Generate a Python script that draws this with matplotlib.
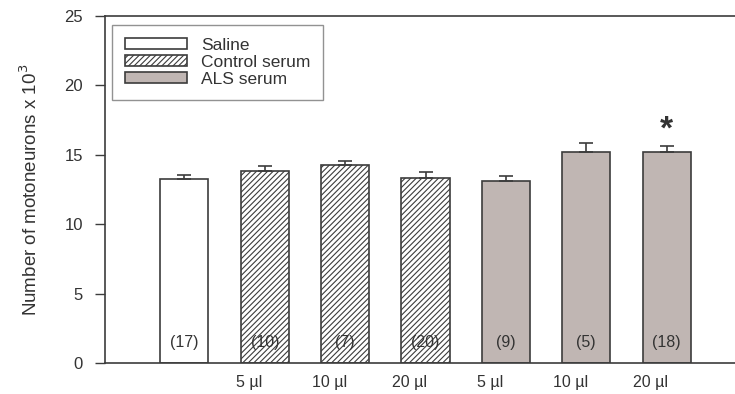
import matplotlib.pyplot as plt
import numpy as np

plt.rcParams['font.family'] = ['Liberation Sans', 'DejaVu Sans']

groups = ['Saline', 'Control', 'Control', 'Control', 'ALS', 'ALS', 'ALS']
means = [13.25, 13.8, 14.3, 13.35, 13.1, 15.2, 15.2]
errs = [0.33, 0.38, 0.25, 0.38, 0.36, 0.65, 0.43]
counts = ['(17)', '(10)', '(7)', '(20)', '(9)', '(5)', '(18)']
doses = ['', '5 \u00b5l', '10 \u00b5l', '20 \u00b5l', '5 \u00b5l', '10 \u00b5l', '20 \u00b5l']

edge = '#3c3c3c'
als_color = '#c0b6b3'

fig = plt.figure(figsize=(7.35, 3.94), dpi=100)
ax = fig.add_axes([105/735, 1 - 363/394, 630/735, 347/394])

x = np.arange(len(means))
plt.rcParams['hatch.color'] = edge
plt.rcParams['hatch.linewidth'] = 0.8

styles = {'Saline': dict(color='white', hatch=None),
          'Control': dict(color='white', hatch='//////'),
          'ALS': dict(color=als_color, hatch=None)}
labels = {'Saline': 'Saline', 'Control': 'Control serum', 'ALS': 'ALS serum'}
seen = set()
for i, g in enumerate(groups):
    lab = labels[g] if g not in seen else None
    seen.add(g)
    ax.bar(x[i], means[i], width=0.6, color=styles[g]['color'],
           hatch=styles[g]['hatch'], edgecolor=edge, linewidth=1.2, label=lab)
    ax.errorbar(x[i], means[i], yerr=[[0], [errs[i]]], fmt='none',
                ecolor=edge, elinewidth=1.2, capsize=5, capthick=1.2)
    ax.text(x[i], 1.45, counts[i], ha='center', va='center', fontsize=11.5,
            color='#333333')
    if doses[i]:
        ax.text(x[i] - 0.2, -1.4, doses[i], ha='center', va='center',
                fontsize=11.5, color='#333333')

ax.text(x[6], 16.75, '*', ha='center', va='center', fontsize=24,
        fontweight='bold', color='#333333')

ax.set_xlim(-0.9875, 6.85)
ax.set_ylim(0, 25)
ax.set_yticks([0, 5, 10, 15, 20, 25])
ax.set_xticks([])
ax.tick_params(axis='y', direction='out', length=7, width=1, colors=edge,
               labelsize=12, labelcolor='#333333', pad=9)
for s in ['left', 'bottom', 'top']:
    ax.spines[s].set_color(edge)
    ax.spines[s].set_linewidth(1.2)
ax.spines['right'].set_visible(False)
ax.set_ylabel('Number of motoneurons x 10$^3$', fontsize=13.5,
              color='#333333', labelpad=17)

leg = ax.legend(loc='upper left', bbox_to_anchor=(0.005, 0.985),
                fontsize=12.5, frameon=True, fancybox=False,
                handlelength=3.6, handleheight=0.55, borderpad=0.75,
                labelspacing=0.12, handletextpad=0.8, borderaxespad=0.2)
leg.get_frame().set_edgecolor('#777777')
leg.get_frame().set_linewidth(1.0)
for t in leg.get_texts():
    t.set_color('#333333')

fig.savefig('out.png', dpi=100)
